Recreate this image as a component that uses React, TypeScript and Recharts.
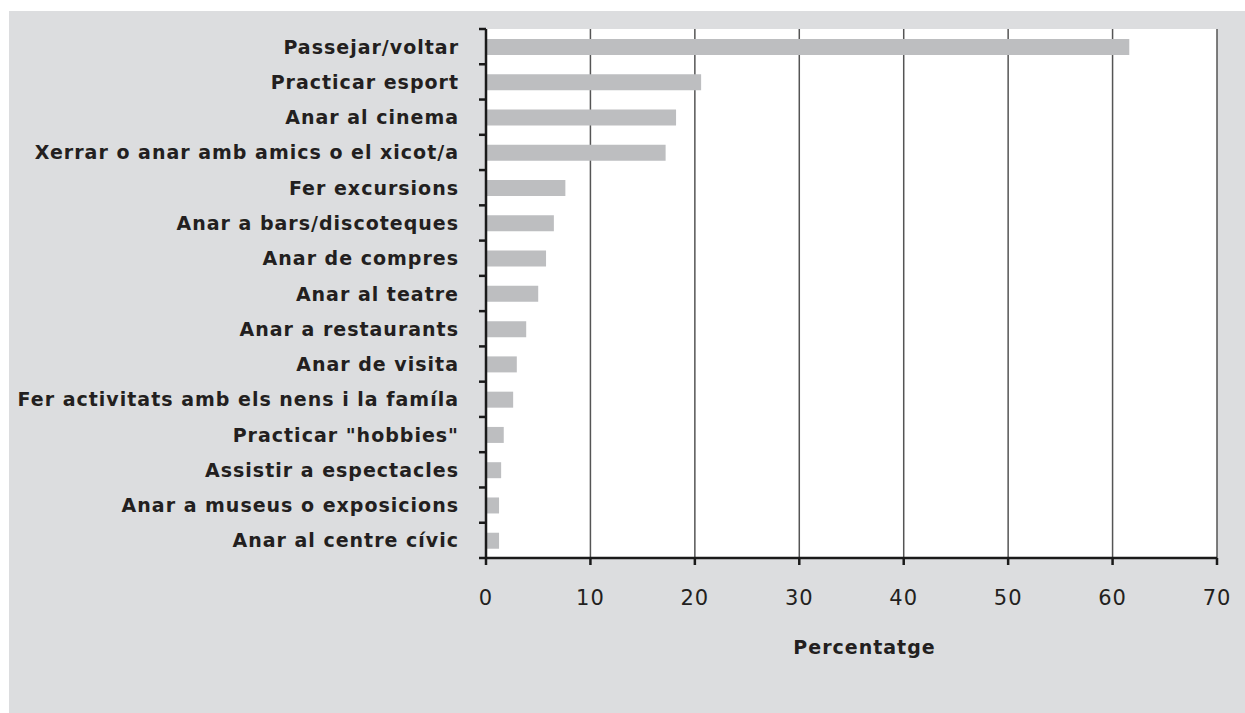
import { BarChart, Bar, XAxis, YAxis, CartesianGrid, Label } from 'recharts';

const activities = [
  'Passejar/voltar',
  'Practicar esport',
  'Anar al cinema',
  'Xerrar o anar amb amics o el xicot/a',
  'Fer excursions',
  'Anar a bars/discoteques',
  'Anar de compres',
  'Anar al teatre',
  'Anar a restaurants',
  'Anar de visita',
  'Fer activitats amb els nens i la famíla',
  'Practicar "hobbies"',
  'Assistir a espectacles',
  'Anar a museus o exposicions',
  'Anar al centre cívic',
];

const percentages = [61.6, 20.6, 18.2, 17.2, 7.6, 6.5, 5.75, 5.0, 3.85, 2.95, 2.6, 1.7, 1.45, 1.25, 1.25];

const xTicks = [0, 10, 20, 30, 40, 50, 60, 70];

const data = activities.map((name, i) => ({ name, value: percentages[i] }));

const W = 1236;
const H = 702;
const PLOT_TOP = 18;
const PLOT_H = 529;
const BAND = PLOT_H / activities.length;

function CategoryTick(props: any) {
  const { x, y, payload, index } = props;
  return (
    <g>
      {index === 0 && (
        <line x1={x + 20} x2={x + 27} y1={y - BAND / 2} y2={y - BAND / 2} stroke="#1a1a1a" strokeWidth={2.5} />
      )}
      <line x1={x + 20} x2={x + 27} y1={y + BAND / 2} y2={y + BAND / 2} stroke="#1a1a1a" strokeWidth={2.5} />
      <text
        x={x}
        y={y}
        dy={7}
        textAnchor="end"
        fontFamily="DejaVu Sans, sans-serif"
        fontWeight="bold"
        fontSize={19}
        letterSpacing={1}
        fill="#231f20"
      >
        {payload.value}
      </text>
    </g>
  );
}

export default function App() {
  return (
    <div
      style={{
        position: 'absolute',
        left: 9,
        top: 11,
        width: W,
        height: H,
        background: '#dcdddf',
      }}
    >
      <BarChart
        width={W}
        height={H}
        data={data}
        layout="vertical"
        margin={{ top: PLOT_TOP, right: 28, bottom: 55, left: 0 }}
        barCategoryGap={0}
      >
        <CartesianGrid horizontal={false} stroke="#555" strokeWidth={1.5} fill="#ffffff" />
        <XAxis
          type="number"
          domain={[0, 70]}
          ticks={xTicks}
          interval={0}
          height={100}
          tickSize={7}
          tickMargin={25}
          axisLine={{ stroke: '#1a1a1a', strokeWidth: 2.5 }}
          tickLine={{ stroke: '#1a1a1a', strokeWidth: 2.5 }}
          tick={{ fill: '#231f20', fontSize: 21, fontFamily: 'DejaVu Sans, sans-serif', letterSpacing: 1 }}
        >
          <Label
            value="Percentatge"
            position="insideBottom"
            offset={4}
            dx={13}
            style={{ fill: '#231f20', fontSize: 19, fontWeight: 'bold', fontFamily: 'DejaVu Sans, sans-serif', letterSpacing: 1 }}
          />
        </XAxis>
        <YAxis
          type="category"
          dataKey="name"
          width={477}
          interval={0}
          tickLine={false}
          tickMargin={21}
          axisLine={{ stroke: '#1a1a1a', strokeWidth: 2.5 }}
          tick={<CategoryTick />}
        />
        <Bar dataKey="value" fill="#bdbec0" barSize={16} isAnimationActive={false} />
      </BarChart>
    </div>
  );
}
